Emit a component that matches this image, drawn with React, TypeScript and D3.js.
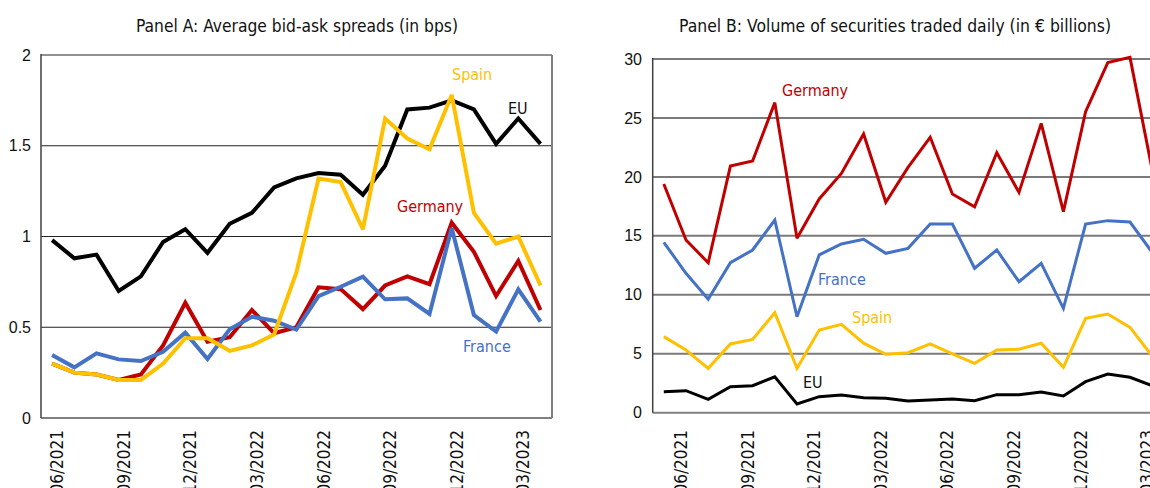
import React from "react";
import * as d3 from "d3";

// Panel A: average bid-ask spreads (bps), 06/2021 .. 04/2023
const monthsA = ["06/2021","07/2021","08/2021","09/2021","10/2021","11/2021","12/2021","01/2022","02/2022","03/2022","04/2022","05/2022","06/2022","07/2022","08/2022","09/2022","10/2022","11/2022","12/2022","01/2023","02/2023","03/2023","04/2023"];
const spreadEU = [0.98,0.88,0.90,0.70,0.78,0.97,1.04,0.91,1.07,1.13,1.27,1.32,1.35,1.34,1.23,1.39,1.70,1.71,1.75,1.70,1.51,1.65,1.51];
const spreadSpain = [0.30,0.25,0.24,0.21,0.21,0.30,0.44,0.44,0.37,0.40,0.46,0.80,1.32,1.30,1.04,1.65,1.54,1.48,1.78,1.13,0.96,1.00,0.73];
const spreadGermany = [0.30,0.25,0.24,0.21,0.24,0.40,0.635,0.42,0.445,0.595,0.467,0.50,0.72,0.71,0.60,0.73,0.78,0.737,1.076,0.916,0.672,0.865,0.595];
const spreadFrance = [0.347,0.279,0.356,0.323,0.314,0.365,0.47,0.325,0.489,0.558,0.536,0.487,0.672,0.723,0.779,0.654,0.659,0.573,1.047,0.567,0.476,0.709,0.531];
const ticksA = [0, 0.5, 1, 1.5, 2];
const ticksALabels = ["0", "0.5", "1", "1.5", "2"];

// Panel B: volume of securities traded daily (EUR bn), 05/2021 .. 03/2023
const monthsB = ["05/2021","06/2021","07/2021","08/2021","09/2021","10/2021","11/2021","12/2021","01/2022","02/2022","03/2022","04/2022","05/2022","06/2022","07/2022","08/2022","09/2022","10/2022","11/2022","12/2022","01/2023","02/2023","03/2023","04/2023"];
const volGermany = [19.4,14.65,12.72,20.92,21.35,26.3,14.79,18.13,20.3,23.64,17.85,20.8,23.36,18.55,17.47,22.05,18.69,24.54,17.05,25.53,29.69,30.14,20.6];
const volFrance = [14.45,11.82,9.62,12.72,13.8,16.34,8.14,13.38,14.31,14.71,13.52,13.94,16.0,16.0,12.25,13.8,11.11,12.67,8.85,16.0,16.29,16.17,13.6];
const volSpain = [6.45,5.32,3.76,5.83,6.22,8.48,3.76,7.01,7.5,5.9,4.95,5.09,5.83,4.98,4.19,5.32,5.38,5.89,3.85,8.0,8.37,7.24,4.8];
const volEU = [1.78,1.87,1.13,2.2,2.29,3.05,0.74,1.36,1.5,1.26,1.22,0.99,1.08,1.16,1.02,1.53,1.53,1.76,1.42,2.63,3.28,3.0,2.28];
const ticksB = [0, 5, 10, 15, 20, 25, 30];
const ticksBLabels = ["0", "5", "10", "15", "20", "25", "30"];

const COL = { EU: "#000000", Germany: "#c00000", France: "#4472c4", Spain: "#ffc000" };
const LABEL_FONT = "'Liberation Sans Narrow', 'DejaVu Sans Condensed', sans-serif";
const NUM_FONT = "'Liberation Sans', Arial, sans-serif";

function Panel(props: any) {
  const { months, series, ticks, tickLabels, yMax, left, right, top, bottom, title, titleX, titleLen,
    labelEvery, labelStart, labelShift, lineW, labels, frame, gridColor, gridW, tickLabelX } = props;
  const nPts = series[0].values.length;
  const xb = d3.scaleBand<string>().domain(months).range([left, left + 22.2 * months.length]);
  const y = d3.scaleLinear().domain([0, yMax]).range([bottom, top]);
  const cx = (i: number) => (xb(months[i]) as number) + xb.bandwidth() / 2;
  const line = d3.line<number>().x((_, i) => cx(i)).y((d) => y(d));
  return (
    <g>
      <text x={titleX} y={32} textAnchor="middle" fontFamily={LABEL_FONT} fontSize={17} fill="#111"
        textLength={titleLen} lengthAdjust="spacingAndGlyphs">{title}</text>
      {ticks.map((t: number, i: number) => (
        <g key={"t" + i}>
          {t > 0 && (
            <line x1={left} x2={frame ? right : 1160} y1={y(t)} y2={y(t)} stroke={gridColor} strokeWidth={gridW} />
          )}
          <text x={tickLabelX} y={y(t)} dy="0.35em" textAnchor="end" fontFamily={NUM_FONT} fontSize={16} fill="#111">{tickLabels[i]}</text>
        </g>
      ))}
      {frame && <line x1={right} x2={right} y1={top} y2={bottom} stroke="#808080" strokeWidth={2} />}
      <line x1={left} x2={frame ? right : 1160} y1={bottom} y2={bottom} stroke="#808080" strokeWidth={2} />
      <line x1={left} x2={left} y1={top - 1} y2={bottom} stroke="#404040" strokeWidth={1.5} />
      {series.map((s: any) => (
        <path key={s.name} d={line(s.values.slice(0, nPts)) as string} fill="none" stroke={s.color}
          strokeWidth={lineW} strokeLinejoin="miter" strokeMiterlimit={3} />
      ))}
      {months.map((m: string, i: number) =>
        i >= labelStart && (i - labelStart) % labelEvery === 0 ? (
          <text key={m} transform={`translate(${cx(i) + labelShift},430) rotate(-90)`} textAnchor="end"
            fontFamily={LABEL_FONT} fontSize={17} fill="#111">{m}</text>
        ) : null
      )}
      {labels.map((l: any) => (
        <text key={l.text} x={l.x} y={l.y} fontFamily={LABEL_FONT} fontSize={16} fill={l.color}>{l.text}</text>
      ))}
    </g>
  );
}

export default function App() {
  return (
    <svg width={1150} height={488} style={{ position: "absolute", left: 0, top: 0, background: "#fff" }}>
      <rect x={0} y={0} width={1150} height={488} fill="#fff" />
      <Panel
        months={monthsA}
        series={[
          { name: "EU", color: COL.EU, values: spreadEU },
          { name: "Germany", color: COL.Germany, values: spreadGermany },
          { name: "France", color: COL.France, values: spreadFrance },
          { name: "Spain", color: COL.Spain, values: spreadSpain },
        ]}
        ticks={ticksA} tickLabels={ticksALabels} yMax={2}
        left={41} right={552} top={55} bottom={418}
        title="Panel A: Average bid-ask spreads (in bps)" titleX={297} titleLen={322}
        labelEvery={3} labelStart={0} labelShift={11} lineW={4}
        frame={true} gridColor="#222" gridW={1.2} tickLabelX={31}
        labels={[
          { text: "Spain", x: 452, y: 80, color: COL.Spain },
          { text: "EU", x: 508, y: 114, color: "#111" },
          { text: "Germany", x: 397, y: 212, color: COL.Germany },
          { text: "France", x: 463, y: 352, color: COL.France },
        ]}
      />
      <Panel
        months={monthsB}
        series={[
          { name: "EU", color: COL.EU, values: volEU },
          { name: "Spain", color: COL.Spain, values: volSpain },
          { name: "France", color: COL.France, values: volFrance },
          { name: "Germany", color: COL.Germany, values: volGermany },
        ]}
        ticks={ticksB} tickLabels={ticksBLabels} yMax={30}
        left={652.7} right={652.7 + 22.2 * 24} top={59} bottom={412.7}
        title="Panel B: Volume of securities traded daily (in € billions)" titleX={895} titleLen={432}
        labelEvery={3} labelStart={1} labelShift={1} lineW={3}
        frame={false} gridColor="#7a7a7a" gridW={2} tickLabelX={642}
        labels={[
          { text: "Germany", x: 782, y: 96, color: COL.Germany },
          { text: "France", x: 818, y: 285, color: COL.France },
          { text: "Spain", x: 852, y: 323, color: COL.Spain },
          { text: "EU", x: 803, y: 388, color: "#111" },
        ]}
      />
    </svg>
  );
}
